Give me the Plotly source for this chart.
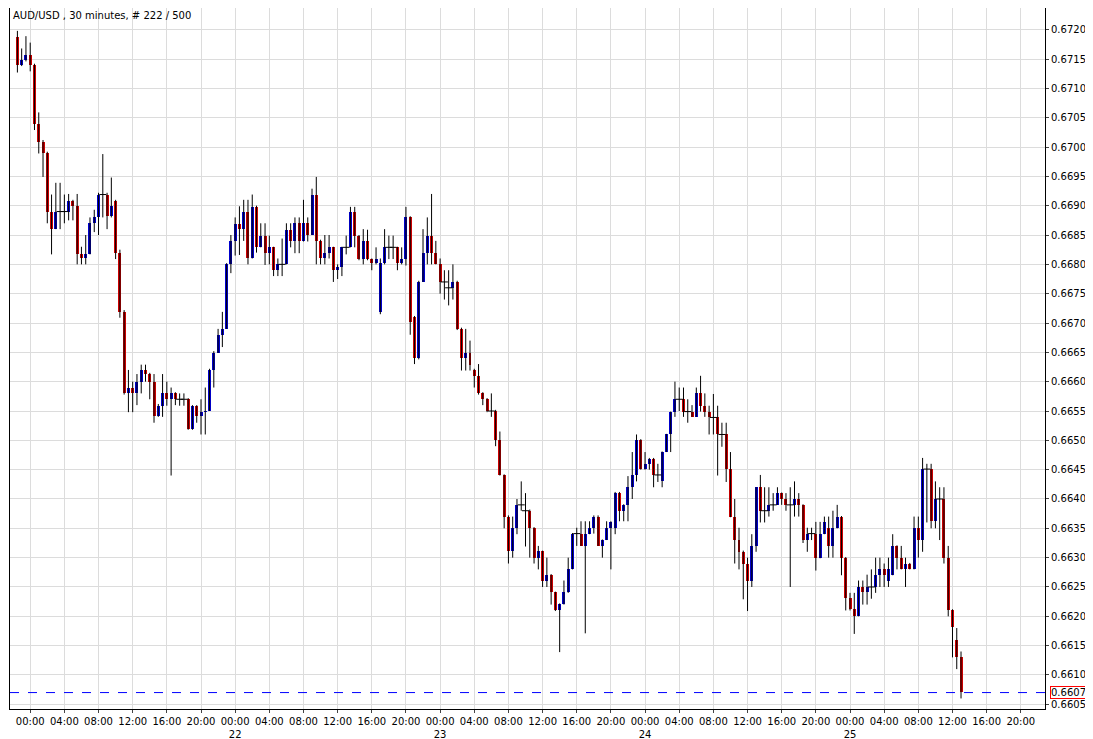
import pandas as pd
import plotly.graph_objects as go

# OHLC in pips (price * 10000), 30 minute candles starting 20th 22:30
open_p = [6718.8, 6713.9, 6714.9, 6715.7, 6713.9, 6704.0, 6700.8, 6698.9, 6689.0, 6686.0,
          6689.0, 6689.0, 6689.0, 6690.8, 6689.9, 6681.7, 6681.0, 6681.7, 6687.0, 6688.0,
          6691.9, 6691.9, 6688.2, 6690.8, 6681.9, 6671.9, 6658.0, 6659.0, 6658.0, 6660.0,
          6662.0, 6661.3, 6660.0, 6654.1, 6655.9, 6658.0, 6657.0, 6658.0, 6657.0, 6657.0,
          6657.0, 6652.0, 6655.9, 6654.1, 6654.9, 6655.0, 6662.0, 6664.9, 6668.0, 6669.0,
          6680.0, 6683.9, 6686.9, 6686.0, 6689.0, 6681.0, 6689.8, 6682.9, 6684.9, 6681.9,
          6682.9, 6679.0, 6680.0, 6680.0, 6685.9, 6683.9, 6687.0, 6683.9, 6687.0, 6685.0,
          6691.9, 6684.0, 6681.0, 6681.9, 6682.9, 6679.0, 6679.6, 6682.9, 6682.9, 6689.0,
          6684.9, 6680.9, 6683.9, 6680.9, 6680.2, 6671.9, 6680.2, 6682.9, 6682.9, 6682.9,
          6680.2, 6680.9, 6688.0, 6671.0, 6664.0, 6677.0, 6681.9, 6684.9, 6681.9, 6680.0,
          6677.0, 6676.0, 6676.0, 6677.0, 6669.0, 6664.0, 6664.9, 6662.0, 6661.0, 6658.0,
          6657.0, 6655.0, 6655.0, 6650.0, 6644.1, 6637.0, 6631.1, 6635.1, 6639.0, 6638.0,
          6638.0, 6635.1, 6630.0, 6631.1, 6626.1, 6627.1, 6624.1, 6621.1, 6622.1, 6624.1,
          6628.1, 6634.1, 6634.1, 6632.0, 6634.1, 6635.1, 6637.0, 6632.0, 6633.0, 6635.1,
          6635.1, 6641.0, 6638.0, 6639.0, 6642.0, 6644.1, 6650.0, 6645.1, 6646.0, 6646.9,
          6644.1, 6643.0, 6648.0, 6651.0, 6654.9, 6657.0, 6657.0, 6654.9, 6654.9, 6654.0,
          6658.0, 6655.9, 6654.9, 6653.9, 6653.9, 6651.0, 6651.0, 6645.1, 6637.0, 6633.0,
          6631.0, 6628.9, 6626.1, 6632.0, 6642.0, 6638.0, 6638.0, 6639.0, 6639.0, 6641.0,
          6640.0, 6639.0, 6639.0, 6640.0, 6639.0, 6633.0, 6634.1, 6634.1, 6630.0, 6634.1,
          6635.1, 6632.0, 6635.1, 6637.0, 6630.0, 6623.2, 6621.2, 6620.1, 6625.0, 6624.1,
          6625.0, 6625.0, 6627.0, 6628.0, 6626.0, 6627.1, 6632.0, 6630.0, 6628.0, 6629.0,
          6628.0, 6635.1, 6633.0, 6645.1, 6645.1, 6636.2, 6640.0, 6640.0, 6630.0, 6621.1,
          6615.9, 6613.1]
high_p = [6719.8, 6716.8, 6718.9, 6717.8, 6714.2, 6705.9, 6701.2, 6699.2, 6691.9, 6693.9,
          6693.9, 6691.9, 6692.0, 6691.0, 6692.0, 6683.0, 6685.0, 6688.0, 6689.3, 6692.2,
          6698.8, 6692.2, 6694.8, 6691.0, 6682.5, 6672.2, 6662.0, 6660.0, 6661.3, 6662.9,
          6662.9, 6661.5, 6661.3, 6656.2, 6661.3, 6660.0, 6659.0, 6658.2, 6658.0, 6658.0,
          6657.2, 6656.0, 6656.0, 6657.0, 6659.0, 6662.2, 6665.2, 6669.0, 6671.9, 6680.2,
          6685.0, 6688.0, 6689.9, 6691.0, 6691.0, 6691.9, 6690.0, 6687.0, 6687.0, 6684.9,
          6683.0, 6681.0, 6684.4, 6687.0, 6687.0, 6688.0, 6688.0, 6691.0, 6688.0, 6692.9,
          6694.9, 6684.2, 6685.0, 6685.0, 6683.0, 6680.0, 6683.0, 6684.9, 6689.8, 6689.8,
          6685.0, 6686.0, 6685.9, 6681.0, 6682.9, 6681.0, 6686.0, 6684.9, 6684.9, 6683.0,
          6682.9, 6689.8, 6688.2, 6671.2, 6677.2, 6686.0, 6688.0, 6692.0, 6684.0, 6681.0,
          6679.0, 6679.0, 6680.0, 6677.2, 6669.2, 6669.0, 6667.0, 6662.2, 6663.0, 6658.2,
          6657.2, 6658.0, 6655.2, 6651.5, 6644.2, 6637.2, 6637.0, 6640.0, 6643.0, 6641.0,
          6638.2, 6635.2, 6632.0, 6631.2, 6630.0, 6627.2, 6624.2, 6622.2, 6626.1, 6630.0,
          6634.2, 6635.1, 6636.2, 6636.2, 6636.2, 6637.2, 6637.2, 6633.1, 6636.2, 6636.2,
          6641.2, 6641.2, 6639.1, 6643.9, 6648.0, 6651.0, 6650.2, 6648.0, 6647.0, 6647.0,
          6646.0, 6648.1, 6651.1, 6654.9, 6660.0, 6659.0, 6659.0, 6657.0, 6656.0, 6659.0,
          6661.0, 6658.0, 6655.9, 6657.9, 6655.9, 6653.0, 6653.0, 6648.0, 6640.0, 6635.1,
          6631.2, 6630.0, 6634.0, 6642.0, 6644.1, 6642.0, 6642.0, 6641.0, 6642.0, 6641.1,
          6641.0, 6642.0, 6643.0, 6641.0, 6639.1, 6635.1, 6635.1, 6636.1, 6636.1, 6637.0,
          6637.0, 6638.0, 6639.0, 6637.1, 6630.1, 6624.0, 6624.0, 6626.1, 6626.1, 6627.1,
          6628.0, 6630.0, 6630.0, 6629.0, 6630.0, 6634.0, 6632.1, 6632.0, 6630.0, 6629.1,
          6637.0, 6637.0, 6647.0, 6646.0, 6646.0, 6643.0, 6642.0, 6642.0, 6632.0, 6621.2,
          6618.0, 6614.0]
low_p = [6712.7, 6713.8, 6714.6, 6712.9, 6702.9, 6698.9, 6694.9, 6687.0, 6681.7, 6686.0,
         6686.0, 6687.0, 6687.5, 6687.5, 6680.0, 6680.0, 6680.0, 6681.7, 6685.5, 6685.0,
         6688.0, 6686.0, 6688.0, 6680.9, 6670.9, 6657.8, 6654.8, 6654.8, 6656.0, 6658.0,
         6660.0, 6657.0, 6653.0, 6654.0, 6654.0, 6655.9, 6644.0, 6656.0, 6655.9, 6655.9,
         6651.8, 6651.8, 6653.0, 6651.0, 6651.0, 6655.0, 6659.0, 6664.9, 6665.9, 6669.0,
         6678.5, 6681.5, 6681.6, 6684.0, 6680.0, 6681.0, 6682.0, 6682.9, 6679.9, 6680.0,
         6678.0, 6678.0, 6678.0, 6680.0, 6682.9, 6681.9, 6681.9, 6683.9, 6683.9, 6685.0,
         6680.0, 6680.0, 6680.0, 6681.0, 6677.0, 6677.5, 6678.0, 6681.7, 6682.9, 6682.9,
         6680.7, 6680.0, 6680.7, 6679.0, 6680.0, 6671.5, 6680.0, 6680.9, 6680.9, 6679.0,
         6680.0, 6679.8, 6668.0, 6663.0, 6663.8, 6677.0, 6680.0, 6680.0, 6680.0, 6675.0,
         6674.0, 6673.0, 6674.0, 6668.8, 6661.9, 6661.9, 6661.9, 6659.0, 6657.8, 6656.0,
         6654.8, 6654.0, 6649.0, 6644.0, 6635.0, 6629.0, 6630.0, 6634.0, 6638.0, 6631.9,
         6630.0, 6629.0, 6628.0, 6625.0, 6625.0, 6622.0, 6620.9, 6613.9, 6622.0, 6624.0,
         6628.0, 6632.0, 6632.0, 6617.1, 6634.0, 6634.1, 6632.0, 6630.0, 6633.0, 6628.0,
         6634.0, 6636.2, 6636.2, 6636.2, 6640.0, 6643.0, 6645.0, 6645.0, 6645.0, 6642.0,
         6642.9, 6642.0, 6648.0, 6648.0, 6654.0, 6655.0, 6654.0, 6653.0, 6654.0, 6654.0,
         6654.9, 6654.0, 6651.0, 6651.0, 6644.0, 6648.9, 6642.9, 6636.9, 6629.0, 6628.0,
         6622.9, 6620.9, 6625.0, 6631.0, 6636.0, 6636.0, 6637.0, 6638.0, 6639.0, 6639.0,
         6638.0, 6625.0, 6637.0, 6637.0, 6632.5, 6631.0, 6633.0, 6627.8, 6629.9, 6634.0,
         6630.0, 6630.0, 6635.0, 6627.0, 6621.0, 6621.0, 6617.0, 6620.0, 6622.0, 6622.0,
         6623.0, 6624.0, 6625.0, 6625.0, 6625.0, 6627.0, 6628.0, 6628.0, 6625.0, 6628.0,
         6628.0, 6630.0, 6631.0, 6636.0, 6635.0, 6635.0, 6633.0, 6629.0, 6620.0, 6613.0,
         6611.0, 6606.0]
close_p = [6713.9, 6714.9, 6715.7, 6713.9, 6704.0, 6700.8, 6698.9, 6689.0, 6686.0, 6689.0,
           6689.0, 6689.0, 6690.8, 6689.9, 6681.7, 6681.0, 6681.7, 6687.0, 6688.0, 6691.9,
           6691.9, 6688.2, 6689.9, 6681.9, 6671.9, 6658.0, 6659.0, 6658.0, 6660.0, 6662.0,
           6661.3, 6660.0, 6654.1, 6655.9, 6658.0, 6657.0, 6658.0, 6657.0, 6657.0, 6657.0,
           6652.0, 6655.9, 6654.1, 6654.9, 6655.0, 6662.0, 6664.9, 6668.0, 6669.0, 6680.0,
           6683.9, 6686.9, 6686.0, 6689.0, 6681.0, 6689.8, 6682.9, 6684.9, 6681.9, 6682.9,
           6679.0, 6680.0, 6680.0, 6685.9, 6683.9, 6687.0, 6683.9, 6687.0, 6685.0, 6691.9,
           6684.0, 6681.0, 6681.9, 6682.9, 6679.0, 6679.6, 6682.9, 6682.9, 6689.0, 6684.9,
           6680.9, 6683.9, 6680.9, 6680.2, 6680.9, 6680.2, 6682.9, 6682.9, 6682.9, 6680.2,
           6680.9, 6688.0, 6670.1, 6664.0, 6677.0, 6681.9, 6684.9, 6681.9, 6680.0, 6677.0,
           6677.0, 6676.0, 6677.0, 6669.0, 6664.0, 6664.9, 6662.9, 6661.0, 6658.0, 6657.0,
           6655.0, 6655.0, 6650.0, 6644.1, 6637.0, 6631.1, 6635.1, 6639.0, 6639.0, 6638.0,
           6635.1, 6630.0, 6631.1, 6626.1, 6627.1, 6624.1, 6621.1, 6622.1, 6624.1, 6628.1,
           6634.1, 6634.1, 6632.0, 6634.1, 6635.1, 6637.0, 6632.0, 6633.0, 6635.1, 6636.1,
           6641.0, 6638.0, 6639.0, 6642.0, 6644.1, 6650.0, 6645.1, 6646.0, 6646.9, 6644.1,
           6644.1, 6648.0, 6651.0, 6654.9, 6657.0, 6657.0, 6654.9, 6654.9, 6654.0, 6658.0,
           6655.9, 6654.9, 6653.9, 6653.9, 6651.0, 6651.0, 6645.1, 6637.0, 6633.0, 6631.0,
           6628.9, 6626.1, 6632.0, 6642.0, 6638.0, 6638.0, 6639.0, 6639.0, 6641.0, 6640.0,
           6639.0, 6639.0, 6640.0, 6639.0, 6633.0, 6634.1, 6634.1, 6630.0, 6634.1, 6636.1,
           6632.0, 6635.1, 6637.0, 6630.0, 6623.2, 6621.2, 6620.1, 6625.0, 6624.1, 6625.0,
           6625.0, 6627.0, 6628.0, 6627.1, 6628.0, 6632.0, 6630.0, 6628.0, 6629.0, 6628.0,
           6635.1, 6633.0, 6645.1, 6645.1, 6636.2, 6640.0, 6640.0, 6630.0, 6621.1, 6618.2,
           6613.1, 6607.1]

start_time = "2019-10-20 22:30"
last_price = 0.6607
tick_labels = ["00:00", "04:00", "08:00", "12:00", "16:00", "20:00"]
day_labels = ["", "22", "23", "24", "25"]

df = pd.DataFrame({"open": open_p, "high": high_p, "low": low_p, "close": close_p}) / 10000
df["time"] = pd.date_range(start_time, periods=len(df), freq="30min")

up = df[df["close"] > df["open"]]
down = df[df["close"] < df["open"]]
flat = df[df["close"] == df["open"]]

fig = go.Figure()

# wicks
wx, wy = [], []
for t, h, l in zip(df["time"], df["high"], df["low"]):
    wx += [t, t, None]
    wy += [l, h, None]
fig.add_trace(go.Scatter(x=wx, y=wy, mode="lines", line=dict(color="black", width=1),
                         hoverinfo="skip", showlegend=False))

bar_w = 30 * 60 * 1000 * 0.7
fig.add_trace(go.Bar(x=up["time"], y=up["close"] - up["open"], base=up["open"],
                     marker=dict(color="#0000cc", line=dict(width=0)), width=bar_w, showlegend=False))
fig.add_trace(go.Bar(x=down["time"], y=down["open"] - down["close"], base=down["close"],
                     marker=dict(color="#cc0000", line=dict(width=0)), width=bar_w, showlegend=False))
fig.add_trace(go.Scatter(x=flat["time"], y=flat["close"], mode="markers",
                         marker=dict(symbol="line-ew", size=5, line=dict(color="black", width=1)),
                         showlegend=False))

# x ticks every 4 hours with day number under midnight
tickvals, ticktext = [], []
for d, day in enumerate(day_labels):
    for k, lab in enumerate(tick_labels):
        tickvals.append(pd.Timestamp("2019-10-21") + pd.Timedelta(days=d, hours=4 * k))
        ticktext.append(lab + ("<br>" + day if k == 0 and day else ""))

fig.add_hline(y=last_price, line=dict(color="#0000ff", width=1, dash="dash"))
fig.add_annotation(x=1, xref="paper", y=last_price, yref="y", text=f"{last_price:.4f}",
                   showarrow=False, xanchor="left", xshift=5, bordercolor="#ff0000",
                   borderwidth=1, borderpad=0, bgcolor="white", font=dict(size=10, color="black"))
fig.add_annotation(x=0, xref="paper", y=1, yref="paper", text="AUD/USD , 30 minutes, # 222 / 500",
                   showarrow=False, xanchor="left", yanchor="top", xshift=1,
                   font=dict(size=10, color="black"))

fig.update_layout(
    width=1093, height=739, margin=dict(l=2, r=56, t=0, b=38, autoexpand=False),
    paper_bgcolor="white", plot_bgcolor="white", barmode="overlay", bargap=0,
    font=dict(family="DejaVu Sans", size=10, color="black"),
)
fig.update_xaxes(
    range=[pd.Timestamp("2019-10-20 21:38"), pd.Timestamp("2019-10-25 22:50")],
    tickvals=tickvals, ticktext=ticktext, showgrid=True, gridcolor="#dcdcdc",
    ticks="outside", ticklen=3, showline=True, linecolor="black", mirror=True,
    rangeslider_visible=False, automargin=False,
)
fig.update_yaxes(
    range=[0.66042, 0.67237], side="right", dtick=0.0005, tick0=0.6605, tickformat=".4f",
    showgrid=True, gridcolor="#dcdcdc", ticks="outside", ticklen=3,
    showline=True, linecolor="black", mirror=True, zeroline=False, automargin=False,
)

fig.write_html("out.html")
